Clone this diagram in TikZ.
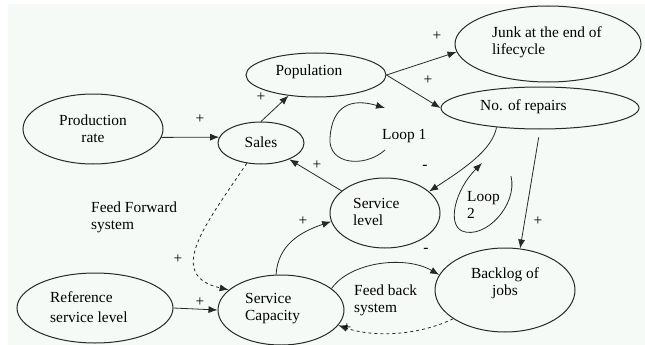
\documentclass[tikz,border=0pt]{standalone}
\usepackage{fontspec}
\setmainfont{Liberation Serif}
\usetikzlibrary{shapes.geometric,arrows.meta}
\definecolor{paper}{RGB}{246,250,247}
\definecolor{ink}{RGB}{40,40,40}

\begin{document}
\begin{tikzpicture}[x=1pt,y=-1pt,
    blob/.style={ellipse,draw=ink,line width=1pt,inner sep=0pt},
    txt/.style={inner sep=0pt,align=left,font=\fontsize{15.4}{17}\selectfont},
    sgn/.style={inner sep=0pt,font=\fontsize{15.4}{17}\selectfont},
    arr/.style={draw=ink,line width=0.8pt,-{Latex[length=9pt,width=7pt]}},
    darr/.style={arr,dashed,dash pattern=on 3pt off 3pt}]
  \useasboundingbox (0,0) rectangle (645,345);
  \fill[paper] (8,4) rectangle (645,345);
  % ellipses
  \node[blob,minimum width=140pt,minimum height=70pt] (prod) at (93,129) {};
  \node[blob,minimum width=86pt,minimum height=42pt] (sales) at (261,143) {};
  \node[blob,minimum width=140pt,minimum height=44pt] (pop) at (316,75) {};
  \node[blob,minimum width=186pt,minimum height=76pt] (junk) at (548,44) {};
  \node[blob,minimum width=198pt,minimum height=42pt] (repairs) at (540,108) {};
  \node[blob,minimum width=110pt,minimum height=70pt] (slevel) at (385,213) {};
  \node[blob,minimum width=140pt,minimum height=84pt] (backlog) at (505,290) {};
  \node[blob,minimum width=126pt,minimum height=70pt] (scap) at (281,310) {};
  \node[blob,minimum width=156pt,minimum height=70pt] (ref) at (95,308) {};
  % texts
  \node[txt,align=center] (prodT) at (93,128.5) {Production\\rate};
  \node[txt] (salesT) at (261,142) {Sales};
  \node[txt] (popT) at (309,72) {Population};
  \node[txt,anchor=west] (junkT) at (492,42) {Junk at the end of\\lifecycle};
  \node[txt,anchor=west] (repairsT) at (480,107) {No. of repairs};
  \node[txt,anchor=west] (loopA) at (382,136) {Loop 1};
  \node[txt,anchor=west] (slevelT) at (353,212) {Service\\level};
  \node[txt,anchor=west] (loopB) at (467,205) {Loop\\2};
  \node[txt,align=center] (backlogT) at (505,283) {Backlog of\\jobs};
  \node[txt,anchor=west] (scapT) at (245,309) {Service\\Capacity};
  \node[txt,anchor=west,font=\fontsize{15.4}{20.5}\selectfont] (refT) at (50,307) {Reference\\service level};
  \node[txt,anchor=west] (fbT) at (354,300) {Feed back\\system};
  \node[txt,anchor=west] (ffT) at (91,217) {Feed Forward\\system};
  % connectors
  \draw[arr] (prod.-7) -- (sales.172);
  \draw[arr] (sales.north) -- (pop.217);
  \draw[arr] (pop.east) -- (junk.185);
  \draw[arr] (pop.east) -- (repairs.west);
  \draw[arr] (repairs.204) .. controls (492,150) and (465,168) .. (slevel.26);
  \draw[arr,shorten <=8pt] (repairs.south) -- (backlog.70);
  \draw[arr] (slevel.153) -- (sales.-30);
  \draw[arr] (scap.98) .. controls (278,245) and (300,232) .. (slevel.189);
  \draw[arr] (scap.23) .. controls (350,262) and (405,255) .. (backlog.167);
  \draw[arr] (ref.east) -- (scap.west);
  \draw[darr] (sales.235) .. controls (205,225) and (165,275) .. (scap.159);
  \draw[darr] (backlog.209) .. controls (420,335) and (375,338) .. (scap.-15);
  % loops
  \coordinate (loopAa) at (385,150);
  \coordinate (loopAb) at (385,108);
  \draw[arr] (loopAa) .. controls (365,168) and (328,165) .. (330,138)
    .. controls (332,105) and (352,98) .. (loopAb);
  \coordinate (loopBa) at (511,176);
  \coordinate (loopBb) at (482,163);
  \draw[arr] (loopBa) .. controls (518,205) and (485,240) .. (462,231)
    .. controls (447,224) and (455,190) .. (loopBb);
  % signs
  \node[sgn] (s1) at (200,119) {+};
  \node[sgn] (s2) at (261,97) {+};
  \node[sgn] (s3) at (437,36) {+};
  \node[sgn] (s4) at (428,80) {+};
  \node[sgn] (s5) at (317,165) {+};
  \node[sgn] (s6) at (425,167) {-};
  \node[sgn] (s7) at (538,221) {+};
  \node[sgn] (s8) at (303,221) {+};
  \node[sgn] (s9) at (426,250) {-};
  \node[sgn] (s10) at (178,259) {+};
  \node[sgn] (s11) at (200,302) {+};
  \node[sgn] (s12) at (347,328) {+};
\end{tikzpicture}
\end{document}
